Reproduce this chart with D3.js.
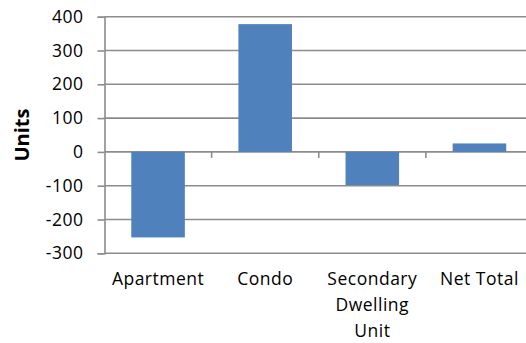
<!DOCTYPE html>
<html>
<head>
<meta charset="utf-8">
<script src="https://cdn.jsdelivr.net/npm/d3@7"></script>
<style>
  body { margin: 0; background: #fff; }
  svg { display: block; }
  text { font-family: "Open Sans", Lato, sans-serif; fill: #000; }
</style>
</head>
<body>
<div id="chart"></div>
<script>
// chart data
var categories = ["Apartment", "Condo", "Secondary Dwelling Unit", "Net Total"];
var categoryLines = [["Apartment"], ["Condo"], ["Secondary", "Dwelling", "Unit"], ["Net Total"]];
var units = [-253, 378, -98, 25];
var yTicks = [-300, -200, -100, 0, 100, 200, 300, 400];

var width = 526, height = 343;
var plotLeft = 104.5, plotRight = 533, plotTop = 16.7, plotBottom = 253.3;

var svg = d3.select("#chart").append("svg")
    .attr("width", width)
    .attr("height", height);

var x = d3.scaleBand()
    .domain(categories)
    .range([plotLeft, plotRight])
    .paddingInner(0.5)
    .paddingOuter(0.25);

var y = d3.scaleLinear()
    .domain([-300, 400])
    .range([plotBottom, plotTop]);

var gridColor = "#8c8c8c";

// horizontal gridlines
svg.append("g").selectAll("line")
    .data(yTicks)
    .enter().append("line")
    .attr("x1", plotLeft)
    .attr("x2", plotRight)
    .attr("y1", function(d) { return y(d); })
    .attr("y2", function(d) { return y(d); })
    .attr("stroke", gridColor)
    .attr("stroke-width", 1.6);

// y axis
var yAxis = svg.append("g")
    .attr("transform", "translate(" + plotLeft + ",0)")
    .call(d3.axisLeft(y).tickValues(yTicks).tickSize(7).tickPadding(14)
        .tickFormat(function(d) { return d < 0 ? "-" + Math.abs(d) : d; }));
yAxis.select(".domain").attr("stroke", gridColor).attr("stroke-width", 1.6);
yAxis.selectAll(".tick line").attr("stroke", gridColor).attr("stroke-width", 1.6);
yAxis.selectAll(".tick text")
    .attr("font-size", 17.5)
    .attr("letter-spacing", 0.5)
    .attr("font-family", "Open Sans");

// bars
svg.append("g").selectAll("rect")
    .data(units)
    .enter().append("rect")
    .attr("x", function(d, i) { return x(categories[i]); })
    .attr("width", x.bandwidth())
    .attr("y", function(d) { return y(Math.max(0, d)); })
    .attr("height", function(d) { return Math.abs(y(d) - y(0)); })
    .attr("fill", "#4f81bd");

// category tick marks on the zero line
var step = x.step();
svg.append("g").selectAll("line")
    .data(d3.range(1, categories.length))
    .enter().append("line")
    .attr("x1", function(i) { return plotLeft + i * step; })
    .attr("x2", function(i) { return plotLeft + i * step; })
    .attr("y1", y(0))
    .attr("y2", y(0) + 6)
    .attr("stroke", gridColor)
    .attr("stroke-width", 1.6);

// category labels
svg.append("g").selectAll("text")
    .data(categoryLines)
    .enter().append("text")
    .attr("text-anchor", "middle")
    .attr("font-size", 17.5)
    .attr("letter-spacing", 0.5)
    .attr("transform", function(d, i) {
        return "translate(" + (x(categories[i]) + x.bandwidth() / 2) + "," + (plotBottom + 32) + ")";
    })
    .selectAll("tspan")
    .data(function(d) { return d; })
    .enter().append("tspan")
    .attr("x", 0)
    .attr("y", function(d, i) { return i * 26; })
    .text(function(d) { return d; });

// y axis title
svg.append("text")
    .attr("transform", "translate(29,135) rotate(-90)")
    .attr("text-anchor", "middle")
    .attr("font-size", 20)
    .attr("font-weight", "bold")
    .text("Units");
</script>
</body>
</html>
